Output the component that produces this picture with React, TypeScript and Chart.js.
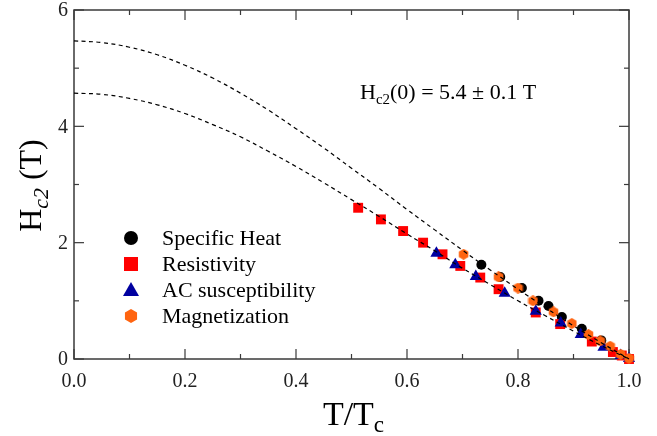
import React, { useEffect, useRef } from "react";
import { Chart, registerables } from "chart.js";

Chart.register(...registerables);

// ---- data ----
const curveT = [0, 0.05, 0.1, 0.15, 0.2, 0.25, 0.3, 0.35, 0.4, 0.45, 0.5, 0.55, 0.6, 0.65, 0.7, 0.75, 0.8, 0.85, 0.9, 0.95, 1.0];
const upperCurveH = [5.47, 5.44, 5.36, 5.23, 5.05, 4.83, 4.57, 4.28, 3.96, 3.63, 3.28, 2.93, 2.57, 2.22, 1.87, 1.53, 1.2, 0.88, 0.57, 0.28, 0];
const lowerCurveH = [4.57, 4.55, 4.48, 4.37, 4.22, 4.03, 3.82, 3.57, 3.31, 3.03, 2.74, 2.45, 2.15, 1.86, 1.56, 1.28, 1.0, 0.74, 0.48, 0.23, 0];

const specificHeatT = [0.734, 0.768, 0.807, 0.837, 0.855, 0.879, 0.915, 0.95];
const specificHeatH = [1.62, 1.41, 1.22, 1.0, 0.91, 0.72, 0.52, 0.32];

const resistivityT = [0.512, 0.553, 0.593, 0.629, 0.664, 0.696, 0.732, 0.765, 0.832, 0.876, 0.933, 0.971, 0.987, 1.0];
const resistivityH = [2.6, 2.4, 2.2, 2.0, 1.8, 1.6, 1.4, 1.2, 0.8, 0.6, 0.3, 0.12, 0.06, 0.0];

const acT = [0.653, 0.687, 0.724, 0.776, 0.832, 0.877, 0.913, 0.954, 0.985, 1.0];
const acH = [1.82, 1.62, 1.42, 1.13, 0.82, 0.62, 0.42, 0.2, 0.06, 0.01];

const magT = [0.702, 0.765, 0.8, 0.827, 0.864, 0.897, 0.927, 0.948, 0.966, 0.985, 1.0];
const magH = [1.8, 1.41, 1.22, 1.0, 0.81, 0.61, 0.42, 0.31, 0.22, 0.08, 0.01];

const xMajorTicks = [0, 0.2, 0.4, 0.6, 0.8, 1.0];
const xTickLabels = ["0.0", "0.2", "0.4", "0.6", "0.8", "1.0"];
const xMinorTicks = [0.1, 0.3, 0.5, 0.7, 0.9];
const yMajorTicks = [0, 2, 4, 6];
const yTickLabels = ["0", "2", "4", "6"];
const yMinorTicks = [1, 3, 5];

const legendLabels = ["Specific Heat", "Resistivity", "AC susceptibility", "Magnetization"];

const BLACK = "#000000";
const RED = "#ff0000";
const BLUE = "#0000a0";
const ORANGE = "#ff6410";
const SERIF = "'Liberation Serif', 'DejaVu Serif', serif";

function hexagon(size: number, color: string) {
  const c = document.createElement("canvas");
  c.width = size;
  c.height = size;
  const g = c.getContext("2d")!;
  const r = size / 2;
  g.fillStyle = color;
  g.beginPath();
  for (let i = 0; i < 6; i++) {
    const a = Math.PI / 2 + (i * Math.PI) / 3;
    const px = r + r * Math.cos(a);
    const py = r + r * Math.sin(a);
    if (i === 0) g.moveTo(px, py);
    else g.lineTo(px, py);
  }
  g.closePath();
  g.fill();
  return c;
}

type Part = { t: string; sub?: boolean; italic?: boolean };

function drawRich(ctx: CanvasRenderingContext2D, parts: Part[], x: number, y: number, size: number, align: "left" | "center") {
  const subSize = size * 0.68;
  const fontOf = (p: Part) => `${p.italic ? "italic " : ""}${p.sub ? subSize : size}px ${SERIF}`;
  const widths = parts.map((p) => {
    ctx.font = fontOf(p);
    return ctx.measureText(p.t).width;
  });
  const total = widths.reduce((a, b) => a + b, 0);
  let cx = align === "center" ? x - total / 2 : x;
  ctx.textAlign = "left";
  ctx.textBaseline = "alphabetic";
  parts.forEach((p, i) => {
    ctx.font = fontOf(p);
    ctx.fillText(p.t, cx, p.sub ? y + size * 0.22 : y);
    cx += widths[i];
  });
}

const pairs = (xs: number[], ys: number[]) => xs.map((x, i) => ({ x, y: ys[i] }));

export default function App() {
  const ref = useRef<HTMLCanvasElement | null>(null);

  useEffect(() => {
    if (!ref.current) return;
    const hexData = hexagon(11, ORANGE);
    const hexLegend = hexagon(14, ORANGE);

    const framePlugin = {
      id: "frame",
      beforeDatasetsDraw(chart: any) {
        const { ctx, chartArea: a, scales } = chart;
        const xs = scales.x;
        const ys = scales.y;
        ctx.save();
        ctx.strokeStyle = "#3a3a3a";
        ctx.lineWidth = 1.5;
        ctx.strokeRect(a.left, a.top, a.right - a.left, a.bottom - a.top);
        ctx.lineWidth = 1.2;
        const tick = (x1: number, y1: number, x2: number, y2: number) => {
          ctx.beginPath();
          ctx.moveTo(x1, y1);
          ctx.lineTo(x2, y2);
          ctx.stroke();
        };
        xMajorTicks.forEach((v) => {
          const px = xs.getPixelForValue(v);
          tick(px, a.bottom, px, a.bottom - 10);
          tick(px, a.top, px, a.top + 10);
        });
        xMinorTicks.forEach((v) => {
          const px = xs.getPixelForValue(v);
          tick(px, a.bottom, px, a.bottom - 5);
          tick(px, a.top, px, a.top + 5);
        });
        yMajorTicks.forEach((v) => {
          const py = ys.getPixelForValue(v);
          tick(a.left, py, a.left + 10, py);
          tick(a.right, py, a.right - 10, py);
        });
        yMinorTicks.forEach((v) => {
          const py = ys.getPixelForValue(v);
          tick(a.left, py, a.left + 5, py);
          tick(a.right, py, a.right - 5, py);
        });
        ctx.restore();
      },
      afterDraw(chart: any) {
        const { ctx, chartArea: a, scales } = chart;
        const xs = scales.x;
        const ys = scales.y;
        ctx.save();
        ctx.fillStyle = "#222";
        ctx.font = `20px ${SERIF}`;
        ctx.textAlign = "center";
        ctx.textBaseline = "alphabetic";
        xMajorTicks.forEach((v, i) => {
          ctx.fillText(xTickLabels[i], xs.getPixelForValue(v), a.bottom + 28);
        });
        ctx.textAlign = "right";
        ctx.textBaseline = "middle";
        yMajorTicks.forEach((v, i) => {
          ctx.fillText(yTickLabels[i], a.left - 6, ys.getPixelForValue(v) + 1);
        });

        // axis titles
        ctx.fillStyle = "#000";
        drawRich(ctx, [{ t: "T/T" }, { t: "c", sub: true }], (a.left + a.right) / 2 + 2, 425, 34, "center");
        ctx.save();
        ctx.translate(41, (a.top + a.bottom) / 2 + 1);
        ctx.rotate(-Math.PI / 2);
        drawRich(ctx, [{ t: "H" }, { t: "c2", sub: true, italic: true }, { t: " (T)" }], 0, 0, 32, "center");
        ctx.restore();

        // annotation
        drawRich(
          ctx,
          [{ t: "H" }, { t: "c2", sub: true }, { t: "(0) = 5.4 \u00b1 0.1 T" }],
          360,
          99,
          22,
          "left"
        );

        // legend
        const lx = 131;
        const rows = [238, 264, 290, 316];
        rows.forEach((ry, i) => {
          ctx.save();
          if (i === 0) {
            ctx.fillStyle = BLACK;
            ctx.beginPath();
            ctx.arc(lx, ry, 7, 0, Math.PI * 2);
            ctx.fill();
          } else if (i === 1) {
            ctx.fillStyle = RED;
            ctx.fillRect(lx - 7, ry - 7, 14, 14);
          } else if (i === 2) {
            ctx.fillStyle = BLUE;
            ctx.beginPath();
            ctx.moveTo(lx, ry - 8);
            ctx.lineTo(lx + 8, ry + 6);
            ctx.lineTo(lx - 8, ry + 6);
            ctx.closePath();
            ctx.fill();
          } else {
            ctx.drawImage(hexLegend, lx - 7, ry - 7);
          }
          ctx.restore();
          ctx.fillStyle = "#000";
          ctx.font = `22px ${SERIF}`;
          ctx.textAlign = "left";
          ctx.textBaseline = "middle";
          ctx.fillText(legendLabels[i], 162, ry + 1);
        });
        ctx.restore();
      },
    };

    const dashed = {
      borderColor: "#000",
      borderWidth: 1.2,
      borderDash: [4, 3.5],
      pointRadius: 0,
      fill: false,
      tension: 0.4,
      showLine: true,
      clip: false,
      order: 0,
    };

    const chart = new Chart(ref.current, {
      type: "scatter",
      data: {
        datasets: [
          { ...dashed, label: "upper", data: pairs(curveT, upperCurveH) },
          { ...dashed, label: "lower", data: pairs(curveT, lowerCurveH) },
          {
            label: legendLabels[3],
            data: pairs(magT, magH),
            pointStyle: hexData as any,
            pointRadius: 5.5,
            backgroundColor: ORANGE,
            borderWidth: 0,
            clip: false,
            order: 1,
          },
          {
            label: legendLabels[2],
            data: pairs(acT, acH),
            pointStyle: "triangle",
            pointRadius: 7,
            backgroundColor: BLUE,
            borderColor: BLUE,
            borderWidth: 0,
            clip: false,
            order: 2,
          },
          {
            label: legendLabels[1],
            data: pairs(resistivityT, resistivityH),
            pointStyle: "rect",
            pointRadius: 7,
            backgroundColor: RED,
            borderColor: RED,
            borderWidth: 0,
            clip: false,
            order: 3,
          },
          {
            label: legendLabels[0],
            data: pairs(specificHeatT, specificHeatH),
            pointStyle: "circle",
            pointRadius: 5,
            backgroundColor: BLACK,
            borderColor: BLACK,
            borderWidth: 0,
            clip: false,
            order: 4,
          },
        ] as any,
      },
      options: {
        animation: false,
        responsive: true,
        maintainAspectRatio: false,
        layout: { padding: { left: 74, right: 28, top: 10, bottom: 77 } },
        plugins: { legend: { display: false }, tooltip: { enabled: false } },
        scales: {
          x: { type: "linear", min: 0, max: 1, display: false },
          y: { type: "linear", min: 0, max: 6, display: false },
        },
      },
      plugins: [framePlugin],
    });
    return () => chart.destroy();
  }, []);

  return (
    <div style={{ position: "fixed", left: 0, top: 0, width: 657, height: 436, background: "#fff" }}>
      <canvas ref={ref} />
    </div>
  );
}
